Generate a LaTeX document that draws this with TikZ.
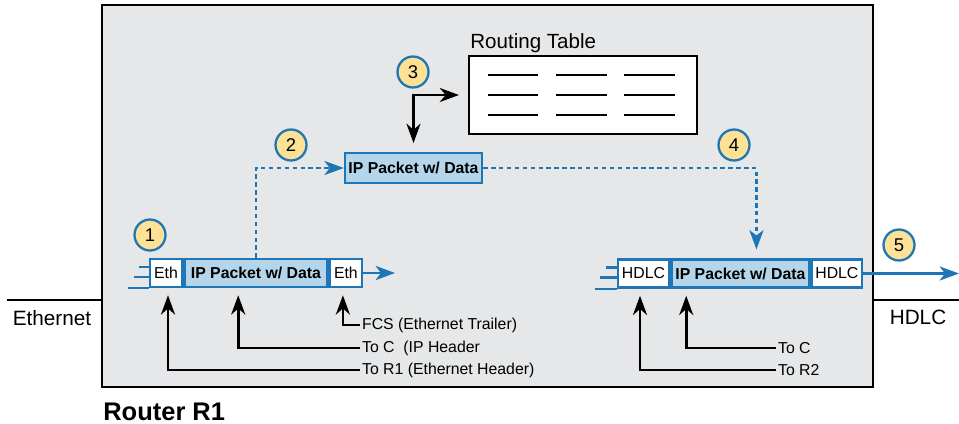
\documentclass[tikz,border=0pt]{standalone}
\usepackage{fontspec}
\setmainfont{Liberation Sans}
\usepackage{xcolor}
\usepackage{tikz}
\usetikzlibrary{positioning, arrows.meta}
\definecolor{linkblue}{RGB}{30,118,182}
\definecolor{packetblue}{RGB}{181,214,234}
\definecolor{routergray}{RGB}{230,231,232}
\definecolor{badgeyellow}{RGB}{253,225,150}

\begin{document}
\begin{tikzpicture}[x=0.02cm, y=-0.02cm,
    % Node styles
    router/.style={rectangle, draw=black, fill=routergray, line width=1.4pt, minimum width=15.42cm, minimum height=7.64cm},
    header/.style={rectangle, draw=linkblue, fill=white, line width=1.4pt, minimum height=0.56cm, inner sep=0pt, font=\fontsize{9}{10}\selectfont},
    packet/.style={header, fill=packetblue, font=\fontsize{9}{10}\selectfont\bfseries},
    rtable/.style={rectangle, draw=black, fill=white, line width=1.4pt, minimum width=4.56cm, minimum height=1.56cm},
    badge/.style={circle, draw=linkblue, fill=badgeyellow, line width=1.3pt, minimum size=0.62cm, inner sep=0pt, font=\fontsize{10.5}{12}\selectfont},
    note/.style={anchor=west, inner sep=1pt, font=\fontsize{9}{10}\selectfont},
    % Edge styles
    wire/.style={draw=linkblue, line width=1.4pt},
    flow/.style={draw=linkblue, line width=1.4pt, dash pattern=on 2.5pt off 2pt, -{Stealth[length=11pt, width=8pt, inset=3pt]}},
    pointer/.style={draw=black, line width=1.5pt, -{Stealth[length=11pt, width=8pt, inset=3.5pt]}},
    rows/.style={draw=black, line width=1.2pt}
]
\useasboundingbox (0,0) rectangle (959,423);

% Router box
\node[router] (r1) at (487.5,196) {};
\node[anchor=base west, inner sep=0pt, font=\fontsize{14.5}{16}\selectfont\bfseries] (r1name) at (103,420) {Router R1};

% Links on both sides
\coordinate (ethEnd) at (7,300);
\coordinate (hdlcEnd) at (959,300);
\node[anchor=base, inner sep=0pt, font=\fontsize{11.8}{13}\selectfont] (ethName) at (52,325) {Ethernet};
\node[anchor=base, inner sep=0pt, font=\fontsize{11.8}{13}\selectfont] (hdlcName) at (918,324) {HDLC};

% Incoming Ethernet frame
\node[header, minimum width=0.64cm] (ethA) at (166,273) {Eth};
\node[packet, minimum width=2.86cm, right=0pt of ethA] (ipA) {IP Packet w/ Data};
\node[header, minimum width=0.64cm, right=0pt of ipA] (ethB) {Eth};
\coordinate (outA) at (395,273);

% Packet alone in the router
\node[packet, minimum width=2.74cm, minimum height=0.6cm] (mid) at (413.5,168) {IP Packet w/ Data};

% Routing table
\node[rtable] (rt) at (583,95) {};
\node[anchor=base west, inner sep=0pt, font=\fontsize{11.7}{13}\selectfont] (rtName) at (470,48) {Routing Table};
\draw[rows] (488,75) -- (538,75) (556,75) -- (607,75) (624,75) -- (675,75);
\draw[rows] (488,95) -- (538,95) (556,95) -- (607,95) (624,95) -- (675,95);
\draw[rows] (488,115) -- (538,115) (556,115) -- (607,115) (624,115) -- (675,115);

% Outgoing HDLC frame
\node[header, minimum width=1.02cm] (hdlcA) at (643.5,273.5) {HDLC};
\node[packet, minimum width=2.76cm, right=0pt of hdlcA] (ipB) {IP Packet w/ Data};
\node[header, minimum width=1.0cm, right=0pt of ipB] (hdlcB) {HDLC};

% Field notes
\node[note] (fcs) at (360,325) {FCS (Ethernet Trailer)};
\node[note] (toC) at (360,348) {To C\ \ (IP Header};
\node[note] (toR1) at (360,370) {To R1 (Ethernet Header)};
\node[note] (toC2) at (776,348) {To C};
\node[note] (toR2) at (776,370) {To R2};

% Steps
\node[badge] (s1) at (150,235) {1};
\node[badge] (s2) at (291,145) {2};
\node[badge] (s3) at (413,72) {3};
\node[badge] (s4) at (734,145) {4};
\node[badge] (s5) at (899,245) {5};


% Draw all edges
\draw[line width=1.4pt] (ethEnd) -- (r1.west |- ethEnd);
\draw[line width=1.4pt] (r1.east |- hdlcEnd) -- (hdlcEnd);

\draw[wire] ([yshift=0.12cm]ethA.west) -- ++(-10,0);
\draw[wire] ([yshift=-0.08cm]ethA.west) -- ++(-15,0);
\draw[wire] (ethA.south west) -- ++(-21,0);
\draw[wire, -{Stealth[length=11pt, width=8pt, inset=3pt]}] (ethB.east) -- (outA);

\draw[wire] ([yshift=0.12cm]hdlcA.west) -- ++(-11,0);
\draw[wire] ([yshift=-0.08cm]hdlcA.west) -- ++(-17,0);
\draw[wire] (hdlcA.south west) -- ++(-22,0);
\draw[wire, -{Stealth[length=11pt, width=8pt, inset=3pt]}] (hdlcB.east) -- (hdlcEnd |- hdlcB.east);

\draw[flow] (ipA.north) |- (mid.west);
\draw[flow, shorten >=5pt] (mid.east) -| ([xshift=0.32cm]ipB.north);

\draw[pointer, {Stealth[length=11pt, width=8pt, inset=3.5pt]}-{Stealth[length=11pt, width=8pt, inset=3.5pt]}, shorten <=5pt, shorten >=5pt] (rt.west) -| (mid.north);

\draw[pointer, shorten >=4pt] (fcs.west) -| ([xshift=-0.06cm]ethB.south);
\draw[pointer, shorten >=4pt] (toC.west) -| ([xshift=1.1cm]ipA.south west);
\draw[pointer, shorten >=4pt] (toR1.west) -| ([xshift=0.04cm]ethA.south);

\draw[pointer, shorten >=4pt] (toC2.west) -| ([xshift=0.32cm]ipB.south west);
\draw[pointer, shorten >=4pt] (toR2.west) -| ([xshift=-0.07cm]hdlcA.south);

\end{tikzpicture}
\end{document}
